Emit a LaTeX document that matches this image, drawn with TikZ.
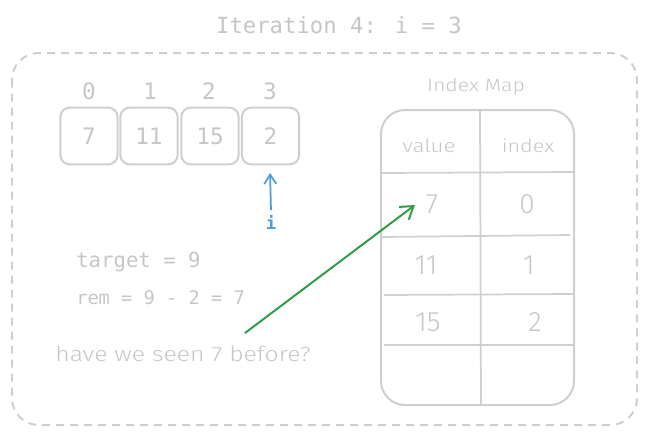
\documentclass[tikz,border=0pt]{standalone}
\usepackage{fontspec}
\setmainfont{Liberation Sans}
\newfontfamily\codefont{DejaVu Sans Mono}
\newfontfamily\handfont[FakeStretch=1.2]{Fira Sans Light}
\newfontfamily\handdig{Fira Sans Light}
\usetikzlibrary{arrows.meta}
\definecolor{lg}{HTML}{CFCFCF}
\definecolor{tg}{HTML}{C6C6C6}
\definecolor{ib}{HTML}{4A9BE0}
\definecolor{gr}{HTML}{2F9E44}
\begin{document}
\begin{tikzpicture}[x=0.75pt,y=-0.75pt,
  cell/.style={draw=lg,line width=1.5pt,rounded corners=7pt,minimum width=43pt,minimum height=42.5pt,inner sep=0pt,font=\codefont\fontsize{17}{20}\selectfont,text=tg},
  idx/.style={font=\codefont\fontsize{17}{20}\selectfont,text=tg},
  code/.style={font=\codefont\fontsize{15.5}{18}\selectfont,text=tg,anchor=west,inner sep=0pt},
  hand/.style={font=\handfont\fontsize{13.5}{16}\selectfont,text=tg},
  digit/.style={font=\handdig\fontsize{21}{24}\selectfont,text=tg},
  tline/.style={draw=lg,line width=1.3pt}]
\useasboundingbox (0,0) rectangle (647,436);
\node[font=\codefont\fontsize{16.7}{20}\selectfont,text=tg] (title) at (339,25) {Iteration 4: i = 3};
\draw[lg,line width=1.5pt,dash pattern=on 6pt off 4.5pt,rounded corners=20pt] (12,53) rectangle (637,425);
% array
\node[cell] (c0) at (89,136) {7};
\node[cell] (c1) at (149,136) {11};
\node[cell] (c2) at (210,136) {15};
\node[cell] (c3) at (270.5,136) {2};
\node[idx] (i0) at (89,91) {0};
\node[idx] (i1) at (150,91) {1};
\node[idx] (i2) at (209,91) {2};
\node[idx] (i3) at (270,91) {3};
% pointer
\node[font=\codefont\bfseries\fontsize{13}{15}\selectfont,text=ib] (ilab) at (271,222) {i};
\coordinate (ptop) at (270,173);
\coordinate (pbot) at (271,210);
\draw[ib,line width=1.3pt,-{Straight Barb[length=7pt,width=9pt]}] (pbot) -- (ptop);
% code text
\node[code] (t1) at (76,262) {target = 9};
\node[code,font=\codefont\fontsize{14}{17}\selectfont] (t2) at (76,298) {rem = 9 - 2 = 7};
\node[hand,anchor=west,inner sep=0pt,font=\handfont\fontsize{15.5}{18}\selectfont] (q) at (55,354) {have we seen 7 before?};
% table
\node[hand,font=\handfont\fontsize{13.3}{16}\selectfont] (mtitle) at (476,87) {Index Map};
\draw[lg,line width=1.5pt,rounded corners=18pt] (381,110) rectangle (574,405);
\draw[tline] (480,110) -- (481,405);
\draw[tline] (382,173) -- (573,172);
\draw[tline] (382,237) -- (570,235);
\draw[tline] (384,295) -- (573,294);
\draw[tline] (384,345) -- (573,345);
\node[hand,font=\handfont\fontsize{14}{16}\selectfont] (h1) at (429,146) {value};
\node[hand] (h2) at (528,146) {index};
\node[digit] (v1) at (432,204) {7};
\node[digit] (w1) at (527,204) {0};
\node[digit] (v2) at (426,265) {11};
\node[digit] (w2) at (529,265) {1};
\node[digit] (v3) at (428,322) {15};
\node[digit] (w3) at (535,322) {2};
% green arrow
\coordinate (gs) at (245,333);
\coordinate (ge) at (415,205);
\draw[gr,line width=1.5pt,-{Straight Barb[length=9pt,width=12pt]}] (gs) -- (ge);
\end{tikzpicture}
\end{document}
